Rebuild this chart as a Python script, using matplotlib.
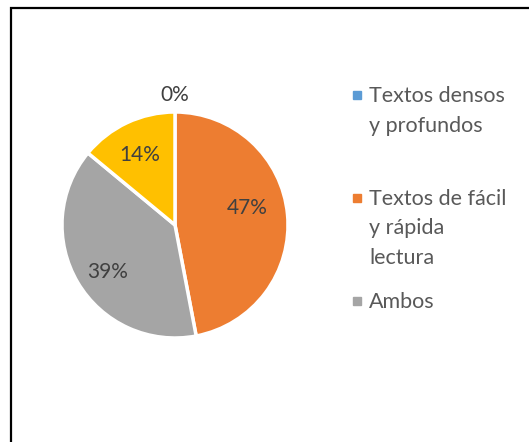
import matplotlib.pyplot as plt
from matplotlib.patches import Rectangle

plt.rcParams['font.family'] = ['Lato', 'DejaVu Sans']

labels = ['Textos densos\ny profundos', 'Textos de fácil\ny rápida\nlectura', 'Ambos', 'Otros']
values = [0, 47, 39, 14]
colors = ['#5B9BD5', '#ED7D31', '#A5A5A5', '#FFC000']
legend_base = [102, 205, 308]  # baseline of first line of each legend entry, px

W, H = 529, 442
fig = plt.figure(figsize=(W / 100, H / 100), dpi=100)

# chart border (cropped at right / bottom)
fig.add_artist(Rectangle((10.5 / W, -0.1), 1.2, (H - 7.5) / H + 0.1,
                         transform=fig.transFigure, fill=False,
                         edgecolor='black', linewidth=1.6))

cx, cy, r = 175, 225, 113
ax = fig.add_axes([(cx - r) / W, (H - cy - r) / H, 2 * r / W, 2 * r / H])
wedges, texts, autotexts = ax.pie(values, colors=colors, startangle=90, counterclock=False,
                                  autopct='%1.0f%%', pctdistance=0.7,
                                  wedgeprops=dict(edgecolor='white', linewidth=2.5),
                                  textprops=dict(fontsize=15, color='#404040'))
ax.set_xlim(-1, 1)
ax.set_ylim(-1, 1)
# label placement like Excel's best fit
label_pos = [(0, 1.15), (0.64, 0.15), (-0.60, -0.42), (-0.31, 0.62)]
for t, p in zip(autotexts, label_pos):
    t.set_position(p)

# legend
for lab, col, y in zip(labels[:3], colors[:3], legend_base):
    fig.add_artist(Rectangle((353 / W, 1 - (y - 3) / H), 8 / W, 8 / H,
                             transform=fig.transFigure, color=col))
    for i, line in enumerate(lab.split('\n')):
        fig.text(369 / W, 1 - (y + 29.5 * i) / H, line, fontsize=15.5,
                 color='#595959', va='baseline', ha='left')

fig.savefig('out.png', dpi=100)
